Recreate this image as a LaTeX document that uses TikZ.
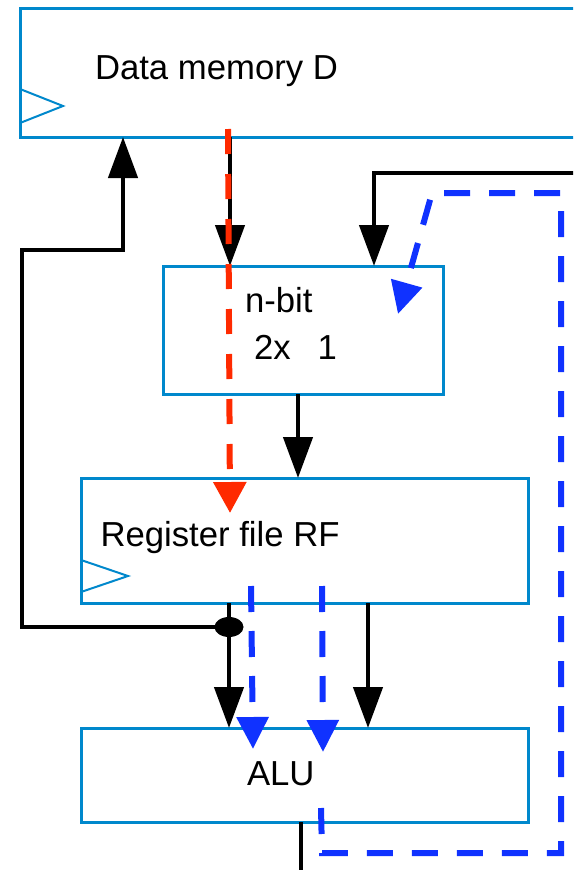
\documentclass[tikz,border=0pt]{standalone}
\usepackage{fontspec}
\setmainfont{Liberation Sans}
\usetikzlibrary{arrows.meta,shapes.geometric}
\definecolor{boxblue}{RGB}{0,136,204}
\definecolor{dashblue}{RGB}{16,50,255}
\definecolor{dashred}{RGB}{255,42,0}
\begin{document}
\begin{tikzpicture}[x=1pt,y=-1pt,
  box/.style={draw=boxblue,line width=3pt,inner sep=0pt,outer sep=0pt,rectangle},
  clk/.style={draw=boxblue,line width=2pt},
  lbl/.style={inner sep=0pt,outer sep=0pt,anchor=base west,font=\fontsize{34.7pt}{40pt}\selectfont},
  blk/.style={draw=black,line width=4.5pt,-{Triangle[length=41pt,width=29pt]}},
  bline/.style={draw=black,line width=4.5pt},
  bdash/.style={draw=dashblue,line width=6pt,dash pattern=on 26pt off 19pt,-{Triangle[length=32pt,width=31pt]}},
  rdash/.style={draw=dashred,line width=6pt,dash pattern=on 25pt off 20pt,-{Triangle[length=31pt,width=32pt]}},
  dotstyle/.style={ellipse,fill=black,minimum width=29pt,minimum height=20pt,inner sep=0pt,outer sep=0pt}
]
\useasboundingbox (0,0) rectangle (573,870);
\clip (0,0) rectangle (573,870);

% boxes
\node[box,minimum width=600pt,minimum height=129pt] (dm) at (320,72.5) {};
\node[box,minimum width=280pt,minimum height=128pt] (mux) at (303,330) {};
\node[box,minimum width=447pt,minimum height=125pt] (rf) at (304.5,540.5) {};
\node[box,minimum width=447pt,minimum height=94pt] (alu) at (304.5,775) {};

% clock marks
\draw[clk] (dm.south west |- 0,89) -- (63,106) -- (dm.south west |- 0,123);
\draw[clk] (rf.south west |- 0,560) -- (128,576) -- (rf.south west |- 0,592);

% labels
\node[lbl] (tdm) at (95,79) {Data memory D};
\node[lbl] (tnb) at (245,312) {n-bit};
\node[lbl] (t2x) at (254,359) {2x\hspace{27pt}1};
\node[lbl] (trf) at (100.5,546) {Register file RF};
\node[lbl] (talu) at (247,785) {ALU};

% coordinates
\coordinate (x123) at (123,0);
\coordinate (x230) at (230,0);
\coordinate (x229) at (229,0);
\coordinate (x298) at (298,0);
\coordinate (x368) at (368,0);
\coordinate (x374) at (374,0);
\coordinate (x301) at (301,0);
\coordinate (l1) at (22,627);
\coordinate (l2) at (22,250);
\coordinate (l3) at (123,250);
\coordinate (tr) at (590,173);
\coordinate (r0) at (228,129);
\coordinate (r1) at (230,513);
\coordinate (b0) at (321,808);
\coordinate (b1) at (322,853);
\coordinate (b2) at (561,853);
\coordinate (b3) at (561,193);
\coordinate (b4) at (432,193);
\coordinate (b5) at (398,314);
\coordinate (c0) at (251,586);
\coordinate (c1) at (253,749);
\coordinate (d0) at (322,586);
\coordinate (d1) at (323,752);
\coordinate (aend) at (301,880);

% black connectors
\node[dotstyle] (dot) at (229,627) {};
\draw[blk] (dot.center) -- (l1) -- (l2) -- (l3) -- (l3 |- dm.south);
\draw[blk] (dm.south -| x230) -- (mux.north -| x230);
\draw[blk] (tr) -| (mux.north -| x374);
\draw[blk] (mux.south -| x298) -- (rf.north -| x298);
\draw[blk] (rf.south -| x229) -- (alu.north -| x229);
\draw[blk] (rf.south -| x368) -- (alu.north -| x368);
\draw[bline] (alu.south -| x301) -- (aend);

% red dashed
\draw[rdash] (r0) -- (r1);

% blue dashed
\draw[bdash] (c0) -- (c1);
\draw[bdash] (d0) -- (d1);
\draw[bdash] (b0) -- (b1) -- (b2) -- (b3) -- (b4) -- (b5);
\end{tikzpicture}
\end{document}
